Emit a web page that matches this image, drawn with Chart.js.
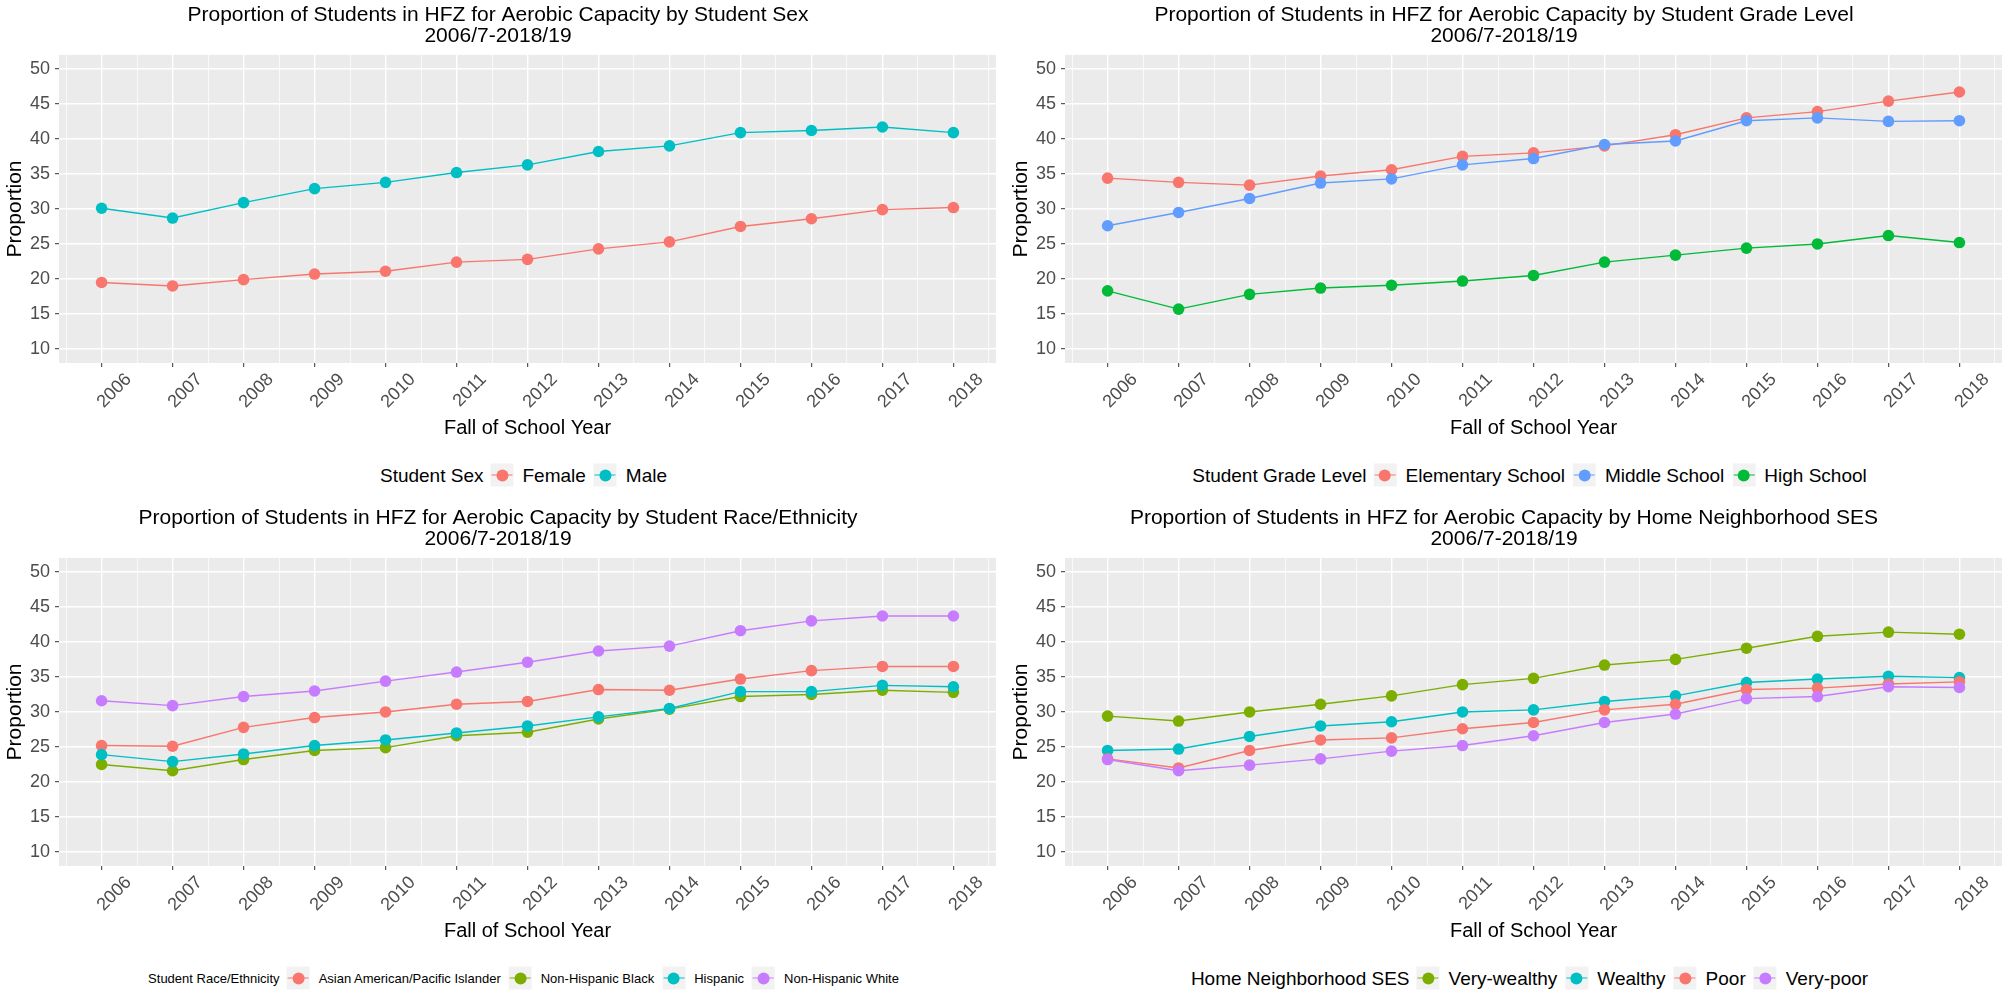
<!DOCTYPE html>
<html>
<head>
<meta charset="utf-8">
<title>Proportion of Students in HFZ for Aerobic Capacity</title>
<script src="https://cdn.jsdelivr.net/npm/chart.js@4.4.1/dist/chart.umd.min.js"></script>
<style>
    html, body { margin: 0; padding: 0; background: #fff; overflow: hidden; }
    #page { position: relative; width: 2008px; height: 995px; overflow: hidden; font-family: "Liberation Sans", Arial, sans-serif; }
    #page canvas { position: absolute; }
    .legend { position: absolute; display: flex; align-items: center; white-space: nowrap; color: #000; transform: translate(-50%, -50%); }
    .legend .ltitle { margin-right: 7px; }
    .legend .key { width: 23px; height: 23px; background: #F2F2F2; position: relative; margin-right: 9px; }
    .legend .key::before { content: ""; position: absolute; left: 1px; right: 1px; top: 11px; height: 1.4px; background: var(--c); }
    .legend .key::after { content: ""; position: absolute; left: 5.5px; top: 5.5px; width: 12px; height: 12px; border-radius: 50%; background: var(--c); }
    .legend .lab { margin-right: 8px; }
</style>
</head>
<body>
<div id="page"></div>
<script>
// === data ===
const years = [2006, 2007, 2008, 2009, 2010, 2011, 2012, 2013, 2014, 2015, 2016, 2017, 2018];
const subtitle = "2006/7-2018/19";

// by student sex
const sexNames = ["Female", "Male"];
const sexFemale = [19.5, 19.0, 19.9, 20.7, 21.1, 22.4, 22.8, 24.3, 25.3, 27.5, 28.6, 29.9, 30.2];
const sexMale = [30.1, 28.7, 30.9, 32.9, 33.8, 35.2, 36.3, 38.2, 39.0, 40.9, 41.2, 41.7, 40.9];

// by grade level
const gradeNames = ["Elementary School", "Middle School", "High School"];
const gradeElementary = [34.4, 33.8, 33.4, 34.7, 35.6, 37.5, 38.0, 39.0, 40.6, 43.0, 43.9, 45.4, 46.7];
const gradeMiddle = [27.6, 29.5, 31.5, 33.7, 34.3, 36.3, 37.2, 39.2, 39.7, 42.6, 43.0, 42.5, 42.6];
const gradeHigh = [18.3, 15.7, 17.8, 18.7, 19.1, 19.7, 20.5, 22.4, 23.4, 24.4, 25.0, 26.2, 25.2];

// by race/ethnicity
const raceNames = ["Asian American/Pacific Islander", "Non-Hispanic Black", "Hispanic", "Non-Hispanic White"];
const raceAsian = [25.2, 25.1, 27.8, 29.2, 30.0, 31.1, 31.5, 33.2, 33.1, 34.7, 35.9, 36.5, 36.5];
const raceBlack = [22.5, 21.6, 23.2, 24.5, 24.9, 26.6, 27.1, 29.0, 30.4, 32.2, 32.5, 33.1, 32.8];
const raceHispanic = [23.9, 22.9, 24.0, 25.2, 26.0, 27.0, 28.0, 29.3, 30.5, 32.9, 32.9, 33.8, 33.6];
const raceWhite = [31.6, 30.9, 32.2, 33.0, 34.4, 35.7, 37.1, 38.7, 39.4, 41.6, 43.0, 43.7, 43.7];

// by home neighborhood SES
const sesNames = ["Very-wealthy", "Wealthy", "Poor", "Very-poor"];
const sesVeryWealthy = [29.4, 28.7, 30.0, 31.1, 32.3, 33.9, 34.8, 36.7, 37.5, 39.1, 40.8, 41.4, 41.1];
const sesWealthy = [24.5, 24.7, 26.5, 28.0, 28.6, 30.0, 30.3, 31.5, 32.3, 34.2, 34.7, 35.1, 34.9];
const sesPoor = [23.3, 22.0, 24.5, 26.0, 26.3, 27.6, 28.5, 30.3, 31.1, 33.2, 33.4, 34.0, 34.3];
const sesVeryPoor = [23.2, 21.6, 22.4, 23.3, 24.4, 25.2, 26.6, 28.5, 29.7, 31.9, 32.2, 33.6, 33.5];

// === styles ===
const FONT = '"Liberation Sans", Arial, sans-serif';
const RED = "#F8766D", TEAL = "#00BFC4", BLUE = "#619CFF", GREEN = "#00BA38", OLIVE = "#7CAE00", PURPLE = "#C77CFF";

const panels = [
    { title: "Proportion of Students in HFZ for Aerobic Capacity by Student Sex",
      legendTitle: "Student Sex", legendSize: 19, names: sexNames,
      series: [sexFemale, sexMale], colors: [RED, TEAL], col: 0, row: 0 },
    { title: "Proportion of Students in HFZ for Aerobic Capacity by Student Grade Level",
      legendTitle: "Student Grade Level", legendSize: 19, names: gradeNames,
      series: [gradeElementary, gradeMiddle, gradeHigh], colors: [RED, BLUE, GREEN], col: 1, row: 0 },
    { title: "Proportion of Students in HFZ for Aerobic Capacity by Student Race/Ethnicity",
      legendTitle: "Student Race/Ethnicity", legendSize: 13, names: raceNames,
      series: [raceAsian, raceBlack, raceHispanic, raceWhite], colors: [RED, OLIVE, TEAL, PURPLE], col: 0, row: 1 },
    { title: "Proportion of Students in HFZ for Aerobic Capacity by Home Neighborhood SES",
      legendTitle: "Home Neighborhood SES", legendSize: 19, names: sesNames,
      series: [sesVeryWealthy, sesWealthy, sesPoor, sesVeryPoor], colors: [OLIVE, TEAL, RED, PURPLE], col: 1, row: 1 },
];

const COL_X = [0, 1006];
const ROW_Y = [0, 503];
const CANVAS_W = 1055, CANVAS_H = 445;

// grey panel background (ggplot theme_grey)
const panelBg = {
    id: "panelBg",
    beforeDraw(chart) {
        const a = chart.chartArea;
        chart.ctx.save();
        chart.ctx.fillStyle = "#EBEBEB";
        chart.ctx.fillRect(a.left, a.top, a.right - a.left, a.bottom - a.top);
        chart.ctx.restore();
    }
};

const isMajorX = v => Math.abs(v - Math.round(v)) < 1e-6;
const isMajorY = v => Math.abs(v / 5 - Math.round(v / 5)) < 1e-6;

function makeChart(canvas, p) {
    const datasets = p.series.map((vals, i) => ({
        label: p.names[i],
        data: years.map((yr, j) => ({ x: yr, y: vals[j] })),
        borderColor: p.colors[i],
        backgroundColor: p.colors[i],
        pointBackgroundColor: p.colors[i],
        pointBorderWidth: 0,
        pointRadius: 5.8,
        borderWidth: 1.4,
        order: -i,
    }));

    return new Chart(canvas, {
        type: "line",
        data: { datasets },
        options: {
            responsive: false,
            animation: false,
            devicePixelRatio: 1,
            layout: { padding: { left: 0, right: 59, top: 0, bottom: 0 } },
            plugins: {
                legend: { display: false },
                tooltip: { enabled: false },
                title: {
                    display: true,
                    text: [p.title, subtitle],
                    color: "#000",
                    font: { family: FONT, size: 21, weight: "normal", lineHeight: 1.033 },
                    padding: { top: 4, bottom: 7.5 },
                },
            },
            scales: {
                x: {
                    type: "linear",
                    min: 2005.4,
                    max: 2018.6,
                    afterFit: s => { s.height = 82; },
                    border: { display: false },
                    grid: {
                        color: "#FFFFFF",
                        lineWidth: c => isMajorX(c.tick.value) ? 1.4 : 0.7,
                        tickColor: c => isMajorX(c.tick.value) ? "#333333" : "rgba(0,0,0,0)",
                        tickLength: 4,
                        tickWidth: 1,
                    },
                    ticks: {
                        stepSize: 0.5,
                        includeBounds: false,
                        autoSkip: false,
                        minRotation: 45,
                        maxRotation: 45,
                        labelOffset: 27,
                        padding: 2,
                        color: "#4D4D4D",
                        font: { family: FONT, size: 18 },
                        callback: v => isMajorX(v) ? String(Math.round(v)) : "",
                    },
                    title: {
                        display: true,
                        text: "Fall of School Year",
                        color: "#000",
                        font: { family: FONT, size: 20, lineHeight: 1.2 },
                        padding: { top: 0, bottom: 5 },
                    },
                },
                y: {
                    min: 8,
                    max: 52,
                    afterFit: s => { s.width = 59; },
                    border: { display: false },
                    grid: {
                        color: "#FFFFFF",
                        lineWidth: c => isMajorY(c.tick.value) ? 1.4 : 0.7,
                        tickColor: c => isMajorY(c.tick.value) ? "#333333" : "rgba(0,0,0,0)",
                        tickLength: 4,
                        tickWidth: 1,
                    },
                    ticks: {
                        stepSize: 2.5,
                        includeBounds: false,
                        padding: 5,
                        color: "#4D4D4D",
                        font: { family: FONT, size: 18 },
                        callback: v => isMajorY(v) ? String(Math.round(v)) : "",
                    },
                    title: {
                        display: true,
                        text: "Proportion",
                        color: "#000",
                        font: { family: FONT, size: 21, lineHeight: 1.2 },
                        padding: { top: 2.4, bottom: 0 },
                    },
                },
            },
        },
        plugins: [panelBg],
    });
}

function makeLegend(page, p, cx, cy) {
    const box = document.createElement("div");
    box.className = "legend";
    box.style.left = cx + "px";
    box.style.top = cy + "px";
    box.style.fontSize = p.legendSize + "px";

    const t = document.createElement("span");
    t.className = "ltitle";
    t.textContent = p.legendTitle;
    box.appendChild(t);

    p.names.forEach((name, i) => {
        const key = document.createElement("span");
        key.className = "key";
        key.style.setProperty("--c", p.colors[i]);
        box.appendChild(key);
        const lab = document.createElement("span");
        lab.className = "lab";
        lab.textContent = name;
        box.appendChild(lab);
    });
    page.appendChild(box);
}

// === build ===
const page = document.getElementById("page");
panels.forEach(p => {
    const x0 = COL_X[p.col], y0 = ROW_Y[p.row];
    const canvas = document.createElement("canvas");
    canvas.width = CANVAS_W;
    canvas.height = CANVAS_H;
    canvas.style.left = x0 + "px";
    canvas.style.top = y0 + "px";
    canvas.style.width = CANVAS_W + "px";
    canvas.style.height = CANVAS_H + "px";
    page.appendChild(canvas);
    makeChart(canvas, p);
    makeLegend(page, p, x0 + 527.5, y0 + 475);
});
</script>
</body>
</html>
